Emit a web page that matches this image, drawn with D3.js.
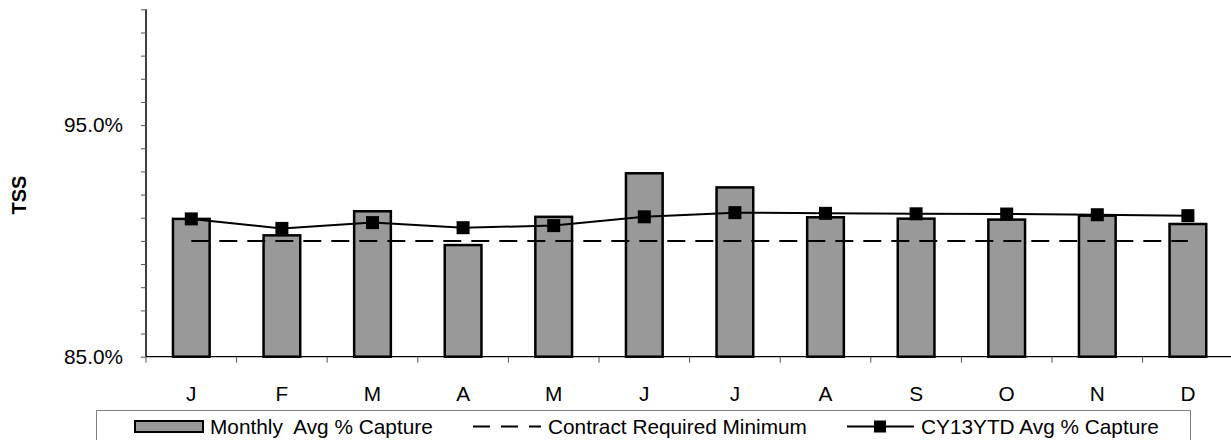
<!DOCTYPE html>
<html>
<head>
<meta charset="utf-8">
<script src="https://cdn.jsdelivr.net/npm/d3@7"></script>
<style>
  html, body { margin: 0; padding: 0; background: #fff; }
  svg { display: block; font-family: "Liberation Sans", Arial, sans-serif; }
  text { white-space: pre; }
</style>
</head>
<body>
<svg id="chart" width="1231" height="440"></svg>
<script>
// Months of the year
const months = ["J", "F", "M", "A", "M", "J", "J", "A", "S", "O", "N", "D"];
// Monthly average % capture (TSS)
const monthlyCapture = [90.95, 90.24, 91.28, 89.82, 91.04, 92.92, 92.31, 91.02, 90.96, 90.92, 91.09, 90.73];
// Year-to-date average % capture
const ytdCapture = [90.95, 90.54, 90.79, 90.57, 90.66, 91.04, 91.22, 91.19, 91.17, 91.16, 91.13, 91.09];
// Contract required minimum
const contractMinimum = [90, 90, 90, 90, 90, 90, 90, 90, 90, 90, 90, 90];
// Y axis: ticks every 1%, labels at 85% and 95%
const yTicks = d3.range(85, 101, 1);
const yLabelled = [85, 95];
const legendLabels = ["Monthly  Avg % Capture", "Contract Required Minimum", "CY13YTD Avg % Capture"];

const svg = d3.select("#chart");
const FONT = 20.8;

const plot = { left: 146, top: 9.3, bottom: 356.7, bandW: 90.6 };
const x = d3.scaleBand()
  .domain(d3.range(months.length))
  .range([plot.left, plot.left + plot.bandW * months.length])
  .paddingInner(0).paddingOuter(0);
const y = d3.scaleLinear().domain([85, 100]).range([plot.bottom, plot.top]);

const barW = x.bandwidth() * 0.405;
const cx = i => x(i) + x.bandwidth() / 2;

// Bars
svg.append("g").selectAll("rect")
  .data(monthlyCapture)
  .join("rect")
  .attr("x", (d, i) => cx(i) - barW / 2)
  .attr("y", d => y(d))
  .attr("width", barW)
  .attr("height", d => y(85) - y(d))
  .attr("fill", "#999999")
  .attr("stroke", "#000")
  .attr("stroke-width", 2.5);

// Contract minimum dashed line
svg.append("path")
  .datum(contractMinimum)
  .attr("d", d3.line().x((d, i) => cx(i)).y(d => y(d)))
  .attr("fill", "none")
  .attr("stroke", "#000")
  .attr("stroke-width", 2)
  .attr("stroke-dasharray", "18,10");

// YTD line with square markers
svg.append("path")
  .datum(ytdCapture)
  .attr("d", d3.line().x((d, i) => cx(i)).y(d => y(d)))
  .attr("fill", "none")
  .attr("stroke", "#000")
  .attr("stroke-width", 2);
const MK = 13;
svg.append("g").selectAll("rect")
  .data(ytdCapture)
  .join("rect")
  .attr("x", (d, i) => cx(i) - MK / 2)
  .attr("y", d => y(d) - MK / 2)
  .attr("width", MK)
  .attr("height", MK)
  .attr("fill", "#000");

// Y axis
const yAxis = svg.append("g")
  .attr("transform", `translate(${plot.left},0)`)
  .call(d3.axisLeft(y)
    .tickValues(yTicks)
    .tickSize(5)
    .tickPadding(18)
    .tickFormat(d => yLabelled.includes(d) ? d.toFixed(1) + "%" : ""));
yAxis.select(".domain").attr("stroke", "#000").attr("stroke-width", 1.5).attr("d", `M0,${plot.top}V${plot.bottom}`);
yAxis.selectAll(".tick line").attr("stroke", "#555");
yAxis.selectAll(".tick text")
  .attr("font-size", FONT)
  .attr("font-family", "Liberation Sans, Arial, sans-serif")
  .attr("fill", "#000");

// X axis
const xAxis = svg.append("g")
  .attr("transform", `translate(0,${plot.bottom})`);
xAxis.append("line")
  .attr("x1", plot.left).attr("x2", plot.left + plot.bandW * months.length)
  .attr("stroke", "#000").attr("stroke-width", 1.2);
xAxis.selectAll("line.tk")
  .data(d3.range(months.length + 1))
  .join("line")
  .attr("class", "tk")
  .attr("x1", i => plot.left + i * plot.bandW)
  .attr("x2", i => plot.left + i * plot.bandW)
  .attr("y1", 0).attr("y2", 6)
  .attr("stroke", "#555");
xAxis.selectAll("text")
  .data(months)
  .join("text")
  .attr("x", (d, i) => cx(i))
  .attr("y", 44)
  .attr("text-anchor", "middle")
  .attr("font-size", FONT)
  .text(d => d);

// Y axis title
svg.append("text")
  .attr("transform", "translate(26,195) rotate(-90)")
  .attr("text-anchor", "middle")
  .attr("font-size", 20)
  .attr("font-weight", "bold")
  .text("TSS");

// Legend
const lg = svg.append("g");
lg.append("rect")
  .attr("x", 96.5).attr("y", 410.5)
  .attr("width", 1094).attr("height", 40)
  .attr("fill", "#fff").attr("stroke", "#808080").attr("stroke-width", 1);
const ly = 426.5;
lg.append("rect")
  .attr("x", 135).attr("y", 421)
  .attr("width", 68).attr("height", 11)
  .attr("fill", "#999999").attr("stroke", "#000").attr("stroke-width", 2);
lg.append("line")
  .attr("x1", 473).attr("x2", 541).attr("y1", ly).attr("y2", ly)
  .attr("stroke", "#000").attr("stroke-width", 2).attr("stroke-dasharray", "17,11");
lg.append("line")
  .attr("x1", 847).attr("x2", 914).attr("y1", ly).attr("y2", ly)
  .attr("stroke", "#000").attr("stroke-width", 2);
lg.append("rect")
  .attr("x", 880 - 6).attr("y", ly - 6).attr("width", 12).attr("height", 12)
  .attr("fill", "#000");
const legendX = [210, 548, 921];
lg.selectAll("text.lt")
  .data(legendLabels)
  .join("text")
  .attr("class", "lt")
  .attr("x", (d, i) => legendX[i])
  .attr("y", ly + 7.4)
  .attr("font-size", FONT)
  .text(d => d);
</script>
</body>
</html>
